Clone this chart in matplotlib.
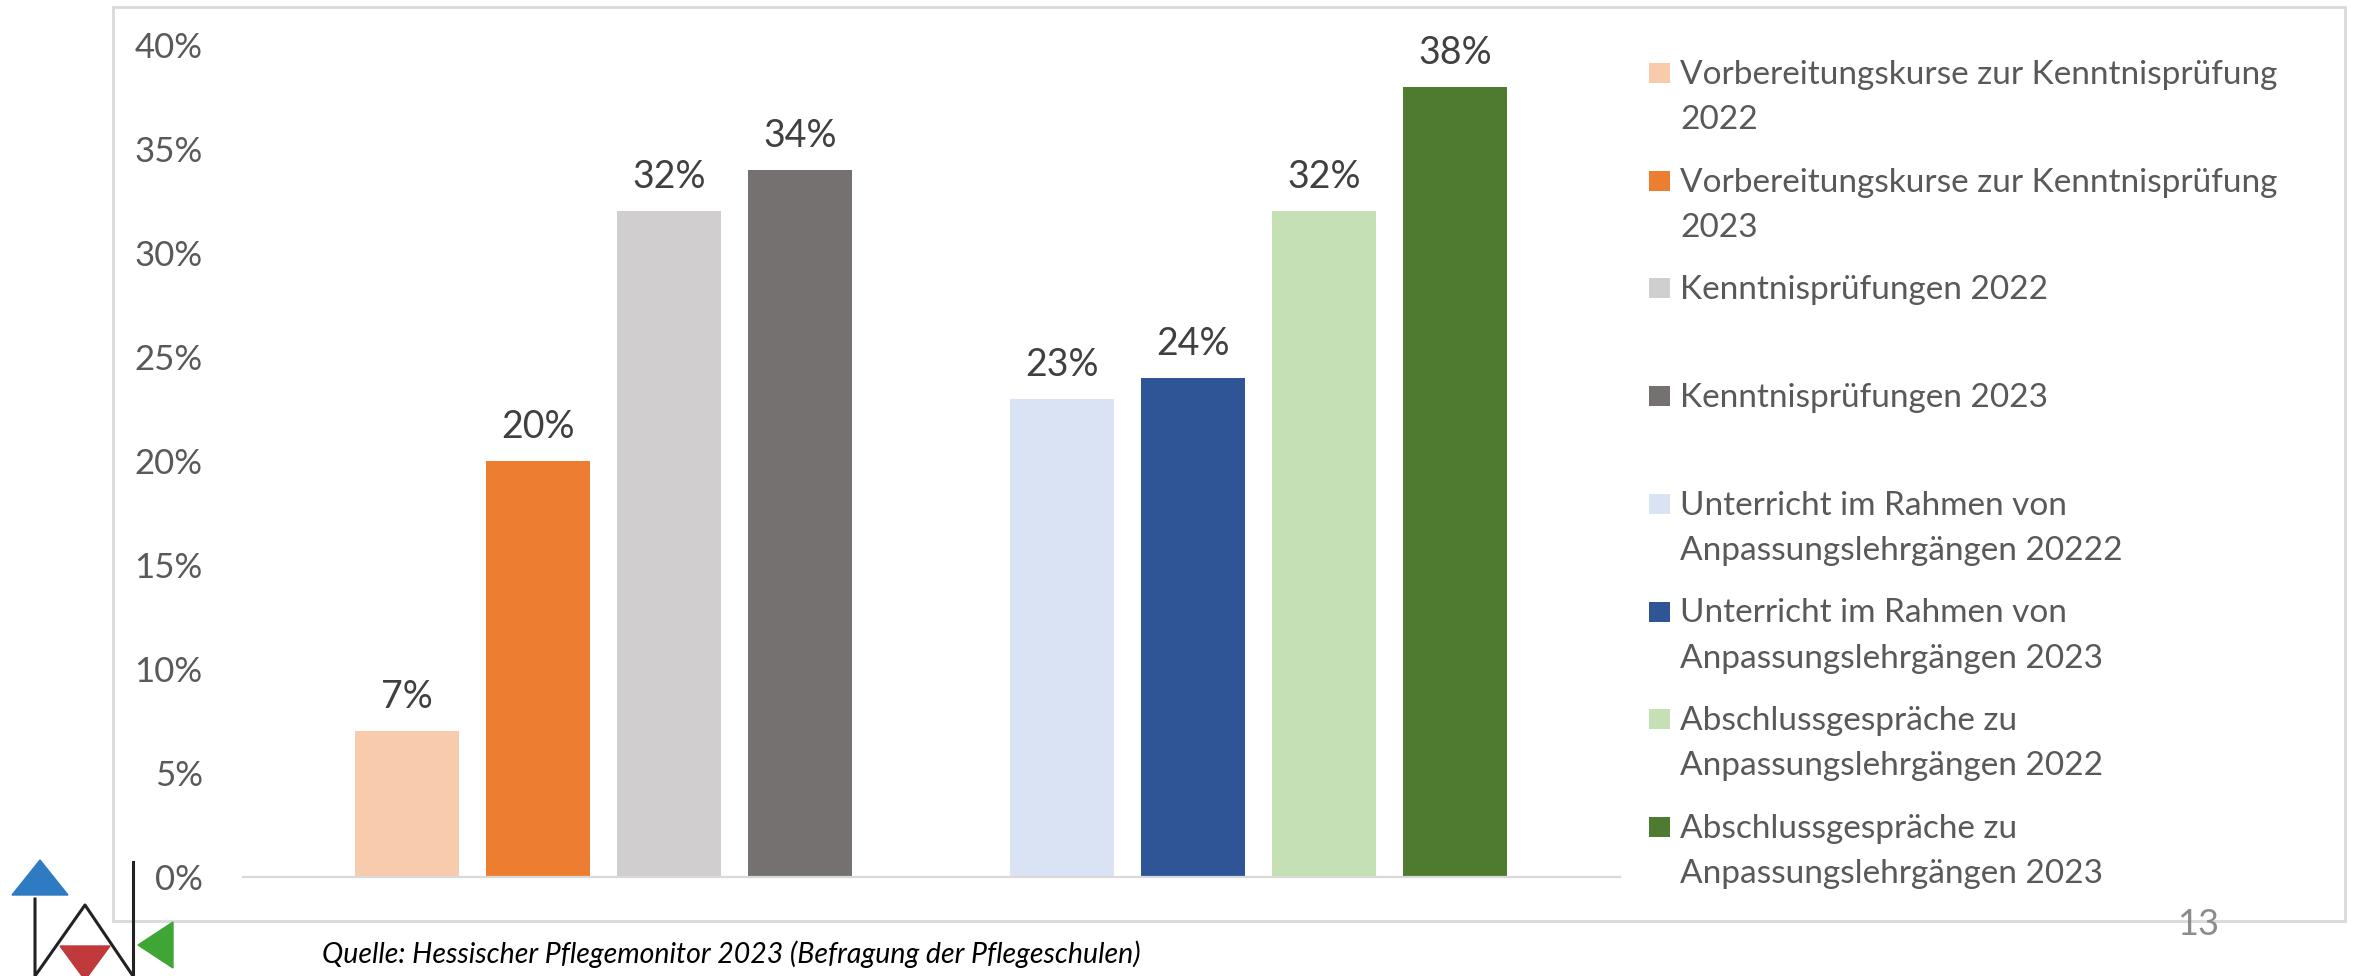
import matplotlib
matplotlib.use("Agg")
import matplotlib.pyplot as plt
from matplotlib.patches import Rectangle, Polygon
from matplotlib.lines import Line2D

plt.rcParams['font.family'] = ['Lato', 'DejaVu Sans']

# data
series_labels = [
    "Vorbereitungskurse zur Kenntnisprüfung\n2022",
    "Vorbereitungskurse zur Kenntnisprüfung\n2023",
    "Kenntnisprüfungen 2022",
    "Kenntnisprüfungen 2023",
    "Unterricht im Rahmen von\nAnpassungslehrgängen 20222",
    "Unterricht im Rahmen von\nAnpassungslehrgängen 2023",
    "Abschlussgespräche zu\nAnpassungslehrgängen 2022",
    "Abschlussgespräche zu\nAnpassungslehrgängen 2023",
]
values = [7, 20, 32, 34, 23, 24, 32, 38]
bar_pos = [0, 1, 2, 3, 5, 6, 7, 8]
colors = ["#F8CBAD", "#ED7D31", "#D0CECE", "#767171",
          "#DAE3F3", "#2F5597", "#C5E0B4", "#4E7B2F"]
y_ticks = [0, 5, 10, 15, 20, 25, 30, 35, 40]
source = "Quelle: Hessischer Pflegemonitor 2023 (Befragung der Pflegeschulen)"

W, H = 2354, 976
fig = plt.figure(figsize=(W / 100, H / 100), dpi=100)


def fx(x):
    return x / W


def fy(y):
    return 1 - y / H


# outer chart frame
fig.add_artist(Rectangle((fx(113), fy(921)), fx(2345) - fx(113), fy(7) - fy(921),
                         transform=fig.transFigure, fill=False,
                         edgecolor="#D9D9D9", linewidth=2))

ax = fig.add_axes([fx(243), fy(877), fx(1620) - fx(243), fy(45) - fy(877)])
ax.bar(bar_pos, values, width=0.79, color=colors)
for x, v in zip(bar_pos, values):
    ax.annotate(f"{v}%", (x, v), xytext=(0, 16.5), textcoords="offset points",
                ha="center", va="baseline", fontsize=27, color="#404040")

ax.set_xlim(-1.25, 9.26)
ax.set_ylim(0, 40)
ax.set_yticks(y_ticks)
ax.set_yticklabels([f"{t}%" for t in y_ticks])
ax.tick_params(axis="y", length=0, pad=29, labelsize=25, labelcolor="#595959")
ax.set_xticks([])
for s in ["top", "right", "left"]:
    ax.spines[s].set_visible(False)
ax.spines["bottom"].set_color("#D9D9D9")
ax.spines["bottom"].set_linewidth(1.6)

# legend, drawn by hand so the swatch sits on the first line
for i, (lab, c) in enumerate(zip(series_labels, colors)):
    top = 63 + 107.7 * i
    fig.add_artist(Rectangle((fx(1649), fy(top + 20)), fx(21), 20 / H,
                             transform=fig.transFigure, color=c, linewidth=0))
    for j, line in enumerate(lab.split("\n")):
        fig.text(fx(1680), fy(top + 21 + 45 * j), line, fontsize=24,
                 color="#595959", va="baseline", ha="left")

fig.text(fx(322), fy(963), source, fontsize=20.5, style="italic",
         color="black", va="baseline")
fig.text(fx(2177), fy(935), "13", fontsize=26, color="#8C8C8C",
         va="baseline")

# logo
fig.add_artist(Polygon([(fx(12), fy(895)), (fx(68), fy(895)), (fx(40), fy(860))],
                       closed=True, transform=fig.transFigure, color="#2E7BC4"))
fig.add_artist(Polygon([(fx(60), fy(946)), (fx(110), fy(946)), (fx(85), fy(980))],
                       closed=True, transform=fig.transFigure, color="#C0393B"))
fig.add_artist(Polygon([(fx(173), fy(922)), (fx(173), fy(968)), (fx(138), fy(945))],
                       closed=True, transform=fig.transFigure, color="#3FA535"))
fig.add_artist(Line2D([fx(35), fx(35), fx(85), fx(133)],
                      [fy(899), fy(976), fy(905), fy(976)],
                      transform=fig.transFigure, color="#222222", linewidth=2.2))
fig.add_artist(Line2D([fx(133), fx(133)], [fy(862), fy(976)],
                      transform=fig.transFigure, color="#222222", linewidth=2.2))

fig.savefig("out.png", dpi=100, facecolor="white")
